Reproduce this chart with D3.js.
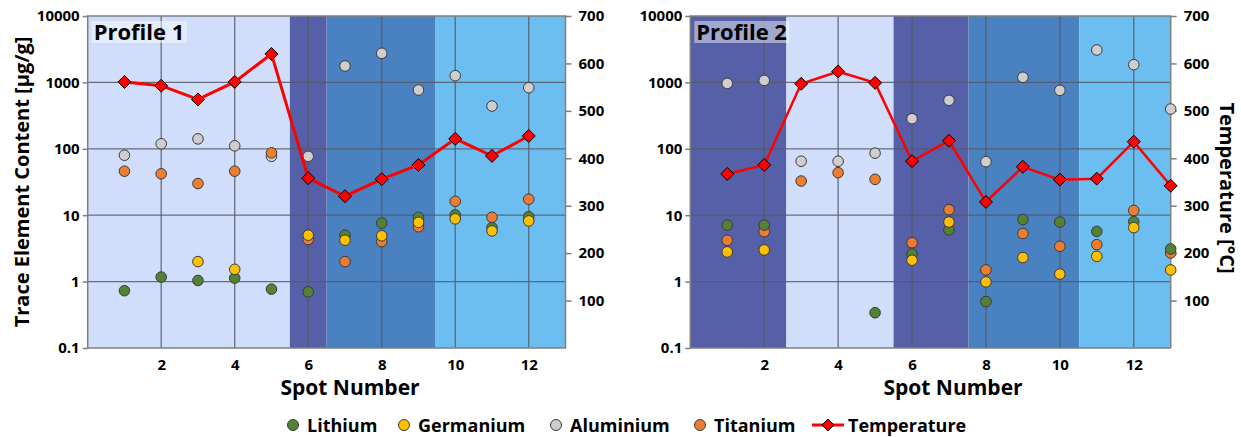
<!DOCTYPE html>
<html><head><meta charset="utf-8">
<script src="https://cdn.jsdelivr.net/npm/d3@7"></script>
<style>
html,body{margin:0;padding:0;background:#fff;}
svg text{font-family:"Open Sans",sans-serif;font-weight:bold;fill:#000;}
</style></head>
<body><svg id="chart" width="1241" height="437"></svg>
<script>
// ---------- data ----------
const spots1 = [1,2,3,4,5,6,7,8,9,10,11,12];
const lithium1   = [0.73,1.17,1.04,1.13,0.77,0.70,5.0,7.6,9.3,10.1,6.5,9.5];
const germanium1 = [null,null,2.0,1.53,null,5.0,4.2,4.9,7.8,8.8,5.8,8.2];
const aluminium1 = [80,119,141,111,77,77,1766,2742,769,1262,441,832];
const titanium1  = [46,42,30,46,87,4.3,2.0,4.0,6.7,16.2,9.3,17.4];
const temp1      = [561,553,524,561,620,358,320,356,386,441,405,447];

const spots2 = [1,2,3,4,5,6,7,8,9,10,11,12,13];
const lithium2   = [7.1,7.1,null,null,0.34,2.6,6.0,0.50,8.6,7.9,5.7,8.0,3.1];
const germanium2 = [2.8,3.0,null,null,null,2.1,7.9,0.99,2.3,1.3,2.4,6.5,1.5];
const aluminium2 = [966,1072,65,65,86,284,537,64,1193,759,3076,1848,397];
const titanium2  = [4.2,5.65,32.7,43.7,34.7,3.85,12.1,1.5,5.3,3.4,3.6,11.8,2.7];
const temp2      = [367,386,557,583,559,394,437,308,382,355,357,435,342];

// background zones (spot-number ranges) and zone kinds
const bandStart1 = [0,5.5,6.5,9.45];
const bandEnd1   = [5.5,6.5,9.45,13];
const bandKind1  = ["light","dark","medium","sky"];
const bandStart2 = [0,2.6,5.5,7.53,10.53];
const bandEnd2   = [2.6,5.5,7.53,10.53,13];
const bandKind2  = ["dark","light","dark","medium","sky"];

const xTicks = [2,4,6,8,10,12];
const yTicks = [0.1,1,10,100,1000,10000];
const yTickLabels = ["0.1","1","10","100","1000","10000"];
const tTicks = [100,200,300,400,500,600,700];

const seriesNames = ["Lithium","Germanium","Aluminium","Titanium","Temperature"];
const colors = {Lithium:"#548235",Germanium:"#ffc000",Aluminium:"#cfcdcd",Titanium:"#ed7d31",Temperature:"#ff0000"};
const bandColors = {light:"#d0defc",dark:"#5660a8",medium:"#4a81c0",sky:"#6cbef0"};

// ---------- drawing ----------
const svg = d3.select("#chart");
const plotTop = 16, plotBottom = 348;

function diamondPath(s){return `M0,${-s}L${s},0L0,${s}L${-s},0Z`;}

function panel(o){
  const x = d3.scaleLinear().domain([0,13]).range([o.left,o.right]);
  const y = d3.scaleLog().domain([0.1,10000]).range([plotBottom,plotTop]);
  const t = d3.scaleLinear().domain([0,700]).range([plotBottom,plotTop]);
  const g = svg.append("g");

  // bands
  g.selectAll("rect.band").data(o.bs).join("rect")
    .attr("x",(d,i)=>x(d)).attr("y",plotTop)
    .attr("width",(d,i)=>x(o.be[i])-x(d)).attr("height",plotBottom-plotTop)
    .attr("fill",(d,i)=>bandColors[o.bk[i]]);

  // grid
  g.selectAll("line.gx").data(xTicks).join("line")
    .attr("x1",d=>x(d)).attr("x2",d=>x(d)).attr("y1",plotTop).attr("y2",plotBottom)
    .attr("stroke","#555a66").attr("stroke-width",1.3).attr("opacity",0.85);
  g.selectAll("line.gy").data(yTicks.slice(1,-1)).join("line")
    .attr("x1",o.left).attr("x2",o.right).attr("y1",d=>y(d)).attr("y2",d=>y(d))
    .attr("stroke","#555a66").attr("stroke-width",1.3).attr("opacity",0.85);
  g.append("rect").attr("x",o.left).attr("y",plotTop).attr("width",o.right-o.left).attr("height",plotBottom-plotTop)
    .attr("fill","none").attr("stroke","#7f7f7f").attr("stroke-width",1.5);

  // axes
  const ly = d3.axisLeft(y).tickValues(yTicks).tickFormat((d,i)=>yTickLabels[i]).tickSize(5).tickPadding(3);
  const ay = g.append("g").attr("transform",`translate(${o.left},0)`).call(ly);
  const ry = d3.axisRight(t).tickValues(tTicks).tickSize(6).tickPadding(7);
  const at = g.append("g").attr("transform",`translate(${o.right},0)`).call(ry);
  const bx = d3.axisBottom(x).tickValues(xTicks).tickSize(0).tickPadding(11);
  const ax = g.append("g").attr("transform",`translate(0,${plotBottom})`).call(bx);
  [ay,at,ax].forEach(a=>{
    a.select(".domain").remove();
    a.selectAll("line").attr("stroke","#7f7f7f").attr("stroke-width",1.5);
    a.selectAll("text").style("font-size","15px").style("font-family","'Open Sans',sans-serif").style("font-weight","bold").attr("fill","#000");
  });

  // scatter series: Aluminium, Titanium, Lithium, Germanium
  const order = [["Aluminium",o.al],["Titanium",o.ti],["Lithium",o.li],["Germanium",o.ge]];
  order.forEach(([name,vals])=>{
    const pts = o.spots.map((s,i)=>({s,v:vals[i]})).filter(d=>d.v!=null);
    g.selectAll(null).data(pts).join("circle")
      .attr("cx",d=>x(d.s)).attr("cy",d=>y(d.v)).attr("r",5.3)
      .attr("fill",colors[name]).attr("stroke","#3a3a3a").attr("stroke-width",1);
  });

  // temperature line
  const tp = o.spots.map((s,i)=>({s,v:o.temp[i]}));
  g.append("path").datum(tp)
    .attr("d",d3.line().x(d=>x(d.s)).y(d=>t(d.v)))
    .attr("fill","none").attr("stroke",colors.Temperature).attr("stroke-width",o.lw);
  g.selectAll(null).data(tp).join("path")
    .attr("d",diamondPath(6.5)).attr("transform",d=>`translate(${x(d.s)},${t(d.v)})`)
    .attr("fill",colors.Temperature).attr("stroke","#000").attr("stroke-width",1);

  // profile label
  g.append("rect").attr("x",o.left+4).attr("y",plotTop+5).attr("width",95).attr("height",22)
    .attr("fill","#fff").attr("opacity",o.labelOp);
  g.append("text").attr("x",o.left+6).attr("y",plotTop+24).style("font-size","22px").text(o.title);

  // x title
  g.append("text").attr("x",o.xTitleX).attr("y",395).attr("text-anchor","middle")
    .style("font-size","21px").text("Spot Number");
}

panel({left:87.7,right:565.5,spots:spots1,li:lithium1,ge:germanium1,al:aluminium1,ti:titanium1,temp:temp1,
  bs:bandStart1,be:bandEnd1,bk:bandKind1,title:"Profile 1",labelOp:0.45,lw:3,xTitleX:350});
panel({left:690.3,right:1170.7,spots:spots2,li:lithium2,ge:germanium2,al:aluminium2,ti:titanium2,temp:temp2,
  bs:bandStart2,be:bandEnd2,bk:bandKind2,title:"Profile 2",labelOp:0.45,lw:2.5,xTitleX:953});

// y titles
svg.append("text").attr("transform","translate(29,182) rotate(-90)").attr("text-anchor","middle")
  .style("font-size","20px").text("Trace Element Content [µg/g]");
svg.append("text").attr("transform","translate(1220,188) rotate(90)").attr("text-anchor","middle")
  .style("font-size","20px").text("Temperature [°C]");

// legend
const legY = 425;
const legX = [293,404,556,700,828];
const lg = svg.append("g");
seriesNames.forEach((n,i)=>{
  const cx = legX[i];
  if(n==="Temperature"){
    lg.append("line").attr("x1",cx-16).attr("x2",cx+16).attr("y1",legY).attr("y2",legY)
      .attr("stroke",colors[n]).attr("stroke-width",3);
    lg.append("path").attr("d",diamondPath(6)).attr("transform",`translate(${cx},${legY})`)
      .attr("fill",colors[n]).attr("stroke","#000").attr("stroke-width",1);
    lg.append("text").attr("x",cx+20).attr("y",legY+6.5).style("font-size","18px").text(n);
  } else {
    lg.append("circle").attr("cx",cx).attr("cy",legY).attr("r",5.5)
      .attr("fill",colors[n]).attr("stroke","#3a3a3a").attr("stroke-width",1);
    lg.append("text").attr("x",cx+14).attr("y",legY+6.5).style("font-size","18px").text(n);
  }
});
</script></body></html>
